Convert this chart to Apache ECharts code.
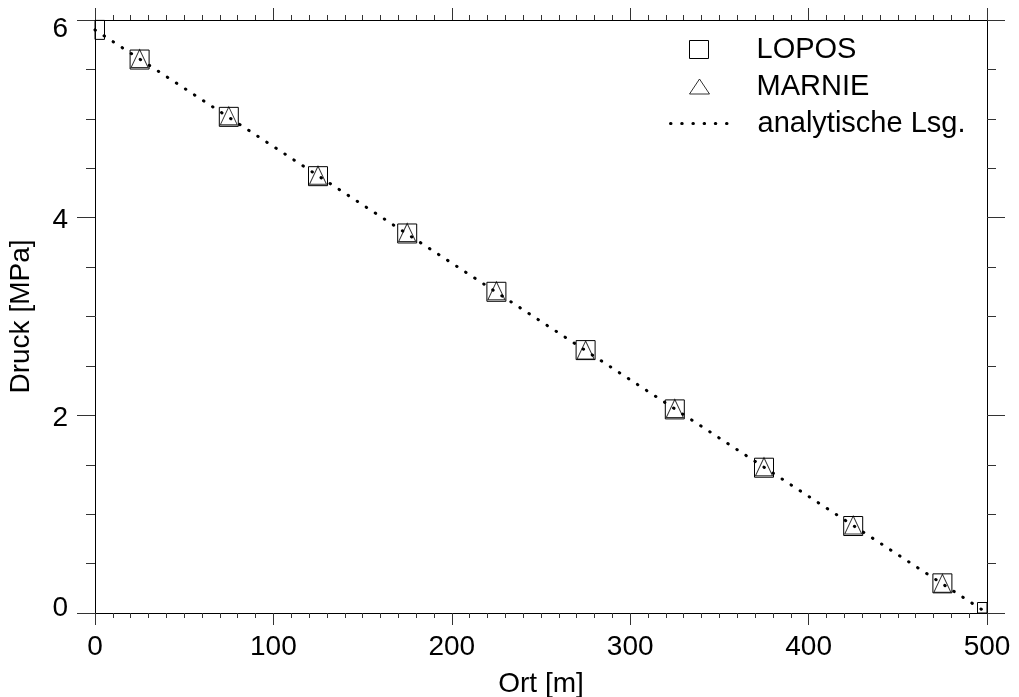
<!DOCTYPE html>
<html>
<head>
<meta charset="utf-8">
<script src="https://cdn.jsdelivr.net/npm/echarts@6/dist/echarts.min.js"></script>
<style>
html,body{margin:0;padding:0;background:#fff;}
#c{width:1019px;height:697px;}
</style>
</head>
<body>
<div id="c"></div>
<script>
// ---- data ----
const loposX = [0, 25, 75, 125, 175, 225, 275, 325, 375, 425, 475, 500];
const loposY = [5.90, 5.60, 5.02, 4.42, 3.84, 3.25, 2.66, 2.06, 1.47, 0.88, 0.30, 0.01];
const marnieX = [25, 75, 125, 175, 225, 275, 325, 375, 425, 475];
const marnieY = [5.61, 5.03, 4.43, 3.85, 3.26, 2.66, 2.07, 1.48, 0.89, 0.30];
const analytX = [0, 500];
const analytY = [5.90, 0.0];
const seriesNames = ['LOPOS', 'MARNIE', 'analytische Lsg.'];
const xTitle = 'Ort [m]';
const yTitle = 'Druck [MPa]';

const zip = (xs, ys) => xs.map((x, i) => [x, ys[i]]);
const FONT = 'Liberation Sans, Arial, sans-serif';
const FS = 28;
const LFS = 29;

const chart = echarts.init(document.getElementById('c'), null, {renderer: 'canvas'});

function xAx(pos, showLabel) {
  return {
    type: 'value', position: pos, min: 0, max: 500, interval: 100,
    name: showLabel ? xTitle : '', nameLocation: 'middle', nameGap: 57,
    nameTextStyle: {fontFamily: FONT, fontSize: FS, color: '#000'},
    axisLine: {show: true, onZero: false, lineStyle: {color: '#000', width: 1}},
    axisTick: {show: true, inside: false, length: 12, lineStyle: {color: '#333', width: 1}},
    minorTick: {show: true, splitNumber: 10, length: 5, lineStyle: {color: '#333', width: 1}},
    axisLabel: {show: showLabel, margin: 20, fontFamily: FONT, fontSize: FS, color: '#000'},
    splitLine: {show: false}, minorSplitLine: {show: false}
  };
}
function yAx(pos, showLabel) {
  return {
    type: 'value', position: pos, min: 0, max: 6, interval: 2,
    name: showLabel ? yTitle : '', nameLocation: 'middle', nameGap: 60, nameRotate: 90,
    nameTextStyle: {fontFamily: FONT, fontSize: FS, color: '#000'},
    axisLine: {show: true, onZero: false, lineStyle: {color: '#000', width: 1}},
    axisTick: {show: true, inside: false, length: 18, lineStyle: {color: '#333', width: 1}},
    minorTick: {show: true, splitNumber: 4, length: 9, lineStyle: {color: '#333', width: 1}},
    axisLabel: {
      show: showLabel, margin: 27, fontFamily: FONT, fontSize: FS, color: '#000',
      formatter: function (v) {
        if (v === 6) return '{top|' + v + '}';
        if (v === 0) return '{bot|' + v + '}';
        return '{mid|' + v + '}';
      },
      rich: {
        top: {fontFamily: FONT, fontSize: FS, color: '#000', padding: [18, 0, 0, 0]},
        mid: {fontFamily: FONT, fontSize: FS, color: '#000', padding: [5, 0, 0, 0]},
        bot: {fontFamily: FONT, fontSize: FS, color: '#000', padding: [0, 0, 10, 0]}
      }
    },
    splitLine: {show: false}, minorSplitLine: {show: false}
  };
}

const legendText = {fontFamily: FONT, fontSize: LFS, color: '#000'};

chart.setOption({
  backgroundColor: '#fff',
  animation: false,
  grid: {left: 95, right: 32, top: 20, bottom: 84, containLabel: false, outerBoundsMode: 'none'},
  xAxis: [xAx('bottom', true), xAx('top', false)],
  yAxis: [yAx('left', true), yAx('right', false)],
  legend: [
    {data: [{name: seriesNames[0], icon: 'rect', itemStyle: {color: 'transparent', borderColor: '#000', borderWidth: 1}}],
     left: 689, top: 35, padding: 0, itemWidth: 19, itemHeight: 18,
     textStyle: Object.assign({padding: [0, 0, 0, 43]}, legendText), selectedMode: false},
    {data: [{name: seriesNames[1], icon: 'triangle', itemStyle: {color: 'transparent', borderColor: '#000', borderWidth: 1}}],
     left: 689, top: 72, padding: 0, itemWidth: 20, itemHeight: 15,
     textStyle: Object.assign({padding: [0, 0, 0, 42]}, legendText), selectedMode: false},
    {data: [{name: seriesNames[2], itemStyle: {color: 'rgba(0,0,0,0)', borderColor: 'rgba(0,0,0,0)', borderWidth: 0, opacity: 0}}],
     left: 669, top: 109, padding: 0, itemWidth: 58, itemHeight: 14,
     lineStyle: {color: '#000', width: 3, type: [0.5, 10.7], cap: 'round'},
     textStyle: Object.assign({padding: [0, 0, 0, 24]}, legendText), selectedMode: false}
  ],
  series: [
    {
      name: seriesNames[0], type: 'custom', xAxisIndex: 0, yAxisIndex: 0,
      data: zip(loposX, loposY),
      itemStyle: {color: 'transparent', borderColor: '#000', borderWidth: 1},
      renderItem: function (params, api) {
        const p = api.coord([api.value(0), api.value(1)]);
        const s = 19;
        const cs = params.coordSys;
        const r = echarts.graphic.clipRectByRect(
          {x: p[0] - s / 2, y: p[1] - s / 2, width: s, height: s},
          {x: cs.x, y: cs.y, width: cs.width, height: cs.height});
        if (!r) return null;
        return {type: 'rect', shape: r, style: {fill: 'none', stroke: '#000', lineWidth: 1}};
      },
      z: 2
    },
    {
      name: seriesNames[1], type: 'scatter', xAxisIndex: 0, yAxisIndex: 0,
      data: zip(marnieX, marnieY),
      symbol: 'triangle', symbolSize: [17, 18],
      itemStyle: {color: 'transparent', borderColor: '#000', borderWidth: 1},
      z: 3
    },
    {
      name: seriesNames[2], type: 'line', xAxisIndex: 0, yAxisIndex: 0,
      data: zip(analytX, analytY),
      symbol: 'none', showSymbol: false,
      lineStyle: {color: '#000', width: 3, type: [0.5, 10.3], cap: 'round'},
      itemStyle: {color: '#000'},
      z: 4
    }
  ]
});
</script>
</body>
</html>
